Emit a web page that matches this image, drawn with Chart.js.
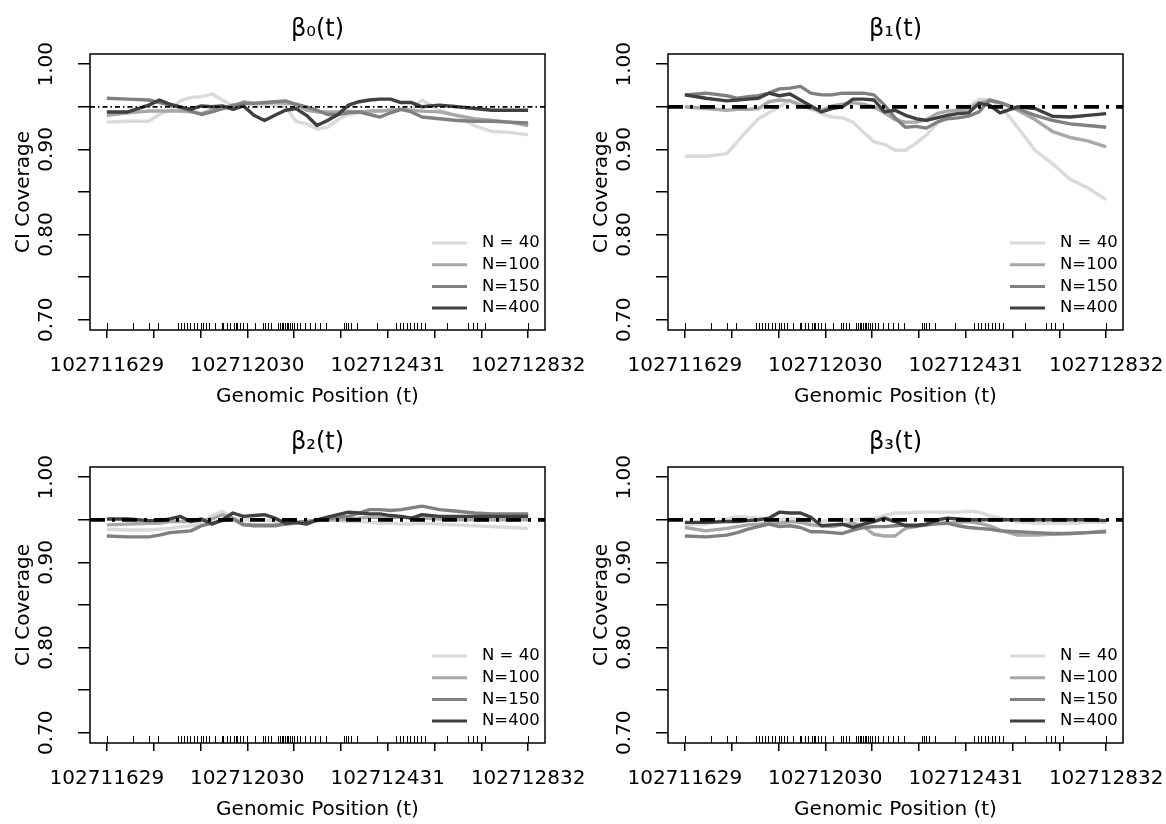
<!DOCTYPE html>
<html>
<head>
<meta charset="utf-8">
<script src="https://cdn.jsdelivr.net/npm/chart.js@4.4.1/dist/chart.umd.min.js"></script>
<style>
  body { margin: 0; background: #fff; }
  #fig { position: relative; width: 1166px; height: 824px; overflow: hidden; }
  #fig canvas { position: absolute; }
</style>
</head>
<body>
<div id="fig">
  <canvas id="p0" width="590" height="411" style="left:0;top:0"></canvas>
  <canvas id="p1" width="588" height="411" style="left:578px;top:0"></canvas>
  <canvas id="p2" width="590" height="411" style="left:0;top:413px"></canvas>
  <canvas id="p3" width="588" height="411" style="left:578px;top:413px"></canvas>
</div>
<script>
// ---- data -------------------------------------------------------
const panelTitles = ['β₀(t)', 'β₁(t)', 'β₂(t)', 'β₃(t)'];
const seriesLabels = ['N = 40', 'N=100', 'N=150', 'N=400'];

const positions = [102711629, 102711689, 102711749, 102711779, 102711809, 102711839, 102711869,
  102711899, 102711929, 102711959, 102711989, 102712019, 102712049, 102712079, 102712109,
  102712139, 102712169, 102712199, 102712229, 102712259, 102712289, 102712319, 102712349,
  102712379, 102712409, 102712439, 102712469, 102712499, 102712529, 102712579, 102712629,
  102712679, 102712729, 102712779, 102712832];

const b0_n40  = [0.932,0.933,0.933,0.941,0.946,0.957,0.961,0.962,0.965,0.958,0.951,0.953,0.953,0.952,0.953,0.950,0.933,0.930,0.924,0.926,0.935,0.941,0.943,0.945,0.945,0.947,0.947,0.947,0.958,0.946,0.939,0.928,0.921,0.920,0.917];
const b0_n100 = [0.940,0.943,0.945,0.945,0.945,0.945,0.944,0.942,0.946,0.948,0.950,0.956,0.954,0.954,0.955,0.954,0.953,0.946,0.944,0.944,0.944,0.945,0.944,0.945,0.945,0.946,0.947,0.946,0.945,0.944,0.940,0.936,0.934,0.932,0.928];
const b0_n150 = [0.960,0.959,0.958,0.955,0.952,0.949,0.945,0.941,0.944,0.948,0.952,0.954,0.954,0.955,0.956,0.957,0.953,0.950,0.946,0.941,0.941,0.943,0.944,0.941,0.938,0.943,0.947,0.944,0.938,0.936,0.934,0.933,0.933,0.932,0.931];
const b0_n400 = [0.944,0.944,0.952,0.958,0.953,0.950,0.947,0.951,0.950,0.951,0.947,0.951,0.940,0.934,0.940,0.946,0.948,0.940,0.928,0.934,0.941,0.952,0.956,0.958,0.959,0.959,0.955,0.955,0.950,0.952,0.950,0.948,0.946,0.946,0.946];

const b1_n40  = [0.892,0.892,0.895,0.909,0.923,0.936,0.943,0.950,0.957,0.954,0.948,0.942,0.938,0.937,0.932,0.920,0.909,0.906,0.899,0.899,0.907,0.917,0.930,0.941,0.945,0.950,0.959,0.958,0.952,0.926,0.899,0.883,0.865,0.855,0.841];
const b1_n100 = [0.950,0.948,0.946,0.947,0.947,0.948,0.956,0.958,0.957,0.952,0.948,0.946,0.951,0.953,0.955,0.953,0.950,0.943,0.935,0.932,0.932,0.935,0.942,0.945,0.946,0.948,0.955,0.957,0.955,0.946,0.935,0.921,0.914,0.910,0.903];
const b1_n150 = [0.964,0.966,0.963,0.960,0.962,0.963,0.966,0.971,0.972,0.974,0.966,0.964,0.964,0.966,0.966,0.966,0.964,0.952,0.937,0.926,0.927,0.925,0.932,0.936,0.937,0.939,0.944,0.958,0.955,0.948,0.940,0.934,0.930,0.928,0.926];
const b1_n400 = [0.964,0.960,0.957,0.958,0.959,0.960,0.966,0.963,0.965,0.958,0.951,0.944,0.948,0.950,0.959,0.959,0.958,0.944,0.946,0.940,0.936,0.934,0.937,0.940,0.942,0.943,0.954,0.952,0.943,0.950,0.948,0.939,0.938,0.940,0.942];

const b2_n40  = [0.939,0.938,0.938,0.939,0.940,0.942,0.943,0.945,0.955,0.960,0.952,0.950,0.950,0.950,0.948,0.946,0.947,0.948,0.949,0.950,0.949,0.948,0.948,0.947,0.946,0.946,0.945,0.945,0.946,0.945,0.944,0.943,0.942,0.941,0.940];
const b2_n100 = [0.944,0.945,0.946,0.946,0.948,0.948,0.948,0.949,0.951,0.956,0.952,0.945,0.944,0.944,0.944,0.945,0.946,0.948,0.949,0.950,0.950,0.951,0.952,0.953,0.953,0.953,0.953,0.952,0.952,0.951,0.950,0.950,0.950,0.950,0.950];
const b2_n150 = [0.931,0.930,0.930,0.932,0.935,0.936,0.937,0.943,0.946,0.949,0.951,0.944,0.943,0.943,0.943,0.945,0.947,0.948,0.949,0.951,0.953,0.954,0.958,0.962,0.962,0.961,0.962,0.964,0.966,0.962,0.960,0.958,0.957,0.957,0.957];
const b2_n400 = [0.951,0.951,0.949,0.949,0.951,0.954,0.948,0.951,0.945,0.950,0.958,0.954,0.955,0.956,0.952,0.946,0.947,0.945,0.950,0.953,0.956,0.959,0.958,0.957,0.957,0.955,0.954,0.952,0.956,0.954,0.954,0.954,0.954,0.954,0.954];

const b3_n40  = [0.944,0.945,0.951,0.954,0.953,0.952,0.951,0.950,0.952,0.951,0.947,0.948,0.950,0.950,0.950,0.951,0.952,0.955,0.958,0.958,0.959,0.959,0.959,0.959,0.959,0.960,0.959,0.955,0.952,0.948,0.946,0.946,0.946,0.947,0.947];
const b3_n100 = [0.941,0.937,0.940,0.942,0.944,0.945,0.946,0.946,0.948,0.947,0.944,0.943,0.942,0.944,0.946,0.942,0.933,0.931,0.931,0.940,0.942,0.944,0.945,0.946,0.947,0.948,0.946,0.943,0.938,0.932,0.932,0.933,0.934,0.935,0.937];
const b3_n150 = [0.931,0.930,0.932,0.935,0.939,0.942,0.945,0.942,0.943,0.941,0.936,0.936,0.935,0.934,0.938,0.941,0.942,0.942,0.943,0.944,0.944,0.944,0.946,0.946,0.943,0.941,0.940,0.939,0.937,0.936,0.935,0.934,0.934,0.935,0.936];
const b3_n400 = [0.947,0.947,0.948,0.948,0.949,0.950,0.952,0.959,0.958,0.958,0.953,0.943,0.944,0.945,0.941,0.945,0.948,0.952,0.948,0.943,0.943,0.945,0.950,0.952,0.951,0.950,0.950,0.950,0.950,0.950,0.950,0.950,0.950,0.950,0.949];

// CpG sites shown as a rug along the bottom
const rugSites = [102711629, 102711704, 102711750, 102711776, 102711833, 102711842, 102711850,
  102711859, 102711866, 102711878, 102711887, 102711898, 102711904, 102711912, 102711921,
  102711938, 102711957, 102711961, 102711971, 102711980, 102711992, 102711997, 102712002,
  102712009, 102712019, 102712028, 102712052, 102712076, 102712082, 102712090, 102712099,
  102712119, 102712123, 102712128, 102712133, 102712138, 102712142, 102712147, 102712152,
  102712157, 102712163, 102712171, 102712180, 102712195, 102712209, 102712223, 102712238,
  102712255, 102712306, 102712312, 102712319, 102712325, 102712344, 102712399, 102712455,
  102712466, 102712476, 102712485, 102712495, 102712506, 102712516, 102712525, 102712538,
  102712599, 102712659, 102712674, 102712685, 102712709, 102712832];

const xLimits = [102711580.9, 102712880.1];
const xTickVals = [102711629, 102711762.67, 102711896.33, 102712030, 102712163.67,
  102712297.33, 102712431, 102712564.67, 102712698.33, 102712832];
const xTickLabels = ['102711629', '', '', '102712030', '', '', '102712431', '', '', '102712832'];
const yLimits = [0.688, 1.012];
const yTickVals = [0.70, 0.75, 0.80, 0.85, 0.90, 0.95, 1.00];
const yTickLabels = ['0.70', '', '0.80', '', '0.90', '', '1.00'];
const refLevel = 0.95;

// ---- style ------------------------------------------------------
const FONT = 'DejaVu Sans';
const seriesColors = ['#dadada', '#a8a8a8', '#808080', '#404040'];
Chart.defaults.font.family = FONT;
Chart.defaults.color = '#000';

// box, rug and vertical y tick labels, drawn the way R does them
const rAxes = {
  id: 'rAxes',
  afterDraw(chart) {
    const { ctx, chartArea: a, scales: { x, y } } = chart;
    ctx.save();
    ctx.strokeStyle = '#000';
    ctx.lineWidth = 1;
    ctx.beginPath();
    rugSites.forEach(s => {
      const px = Math.round(x.getPixelForValue(s)) + 0.5;
      ctx.moveTo(px, a.bottom);
      ctx.lineTo(px, a.bottom - 7);
    });
    ctx.stroke();
    ctx.lineWidth = 1.5;
    ctx.strokeRect(a.left, a.top, a.right - a.left, a.bottom - a.top);
    ctx.font = '20px ' + FONT;
    ctx.fillStyle = '#000';
    ctx.textAlign = 'center';
    ctx.textBaseline = 'middle';
    yTickVals.forEach((v, i) => {
      if (!yTickLabels[i]) return;
      ctx.save();
      ctx.translate(47, y.getPixelForValue(v));
      ctx.rotate(-Math.PI / 2);
      ctx.fillText(yTickLabels[i], 0, 0);
      ctx.restore();
    });
    ctx.restore();
  }
};

// legend without a frame, bottom right inside the plot
const rLegend = {
  id: 'rLegend',
  afterDraw(chart) {
    const { ctx, chartArea: a } = chart;
    ctx.save();
    ctx.font = '16.5px ' + FONT;
    ctx.textAlign = 'left';
    ctx.textBaseline = 'middle';
    ctx.fillStyle = '#000';
    seriesLabels.forEach((lab, i) => {
      const yy = a.bottom - 87 + i * 21.7;
      ctx.strokeStyle = seriesColors[i];
      ctx.lineWidth = 3;
      ctx.beginPath();
      ctx.moveTo(a.right - 113, yy);
      ctx.lineTo(a.right - 78, yy);
      ctx.stroke();
      ctx.fillText(lab, a.right - 63, yy);
    });
    ctx.restore();
  }
};

function makePanel(id, title, series, refWidth, refDash, padRight) {
  const ds = series.map((vals, i) => ({
    label: seriesLabels[i],
    data: positions.map((p, j) => ({ x: p, y: vals[j] })),
    borderColor: seriesColors[i],
    borderWidth: 3.4,
    pointRadius: 0,
    tension: 0,
    borderJoinStyle: 'round',
    order: 10 - i
  }));
  ds.push({
    label: 'nominal',
    data: xLimits.map(x => ({ x, y: refLevel })),
    borderColor: '#000',
    borderWidth: refWidth,
    borderDash: refDash,
    pointRadius: 0,
    order: 0
  });

  new Chart(document.getElementById(id), {
    type: 'line',
    data: { datasets: ds },
    options: {
      responsive: false,
      animation: false,
      events: [],
      layout: { padding: { left: 0, top: 0, right: padRight, bottom: 0 } },
      plugins: {
        legend: { display: false },
        tooltip: { enabled: false },
        title: {
          display: true, text: title, fullSize: false, color: '#000',
          font: { size: 24, weight: 'normal' },
          padding: { top: 15, bottom: 10.2 }
        }
      },
      scales: {
        x: {
          type: 'linear', min: xLimits[0], max: xLimits[1],
          border: { display: false },
          grid: { drawOnChartArea: false, drawTicks: true, tickLength: 8, color: '#000', lineWidth: 1.5 },
          afterBuildTicks: s => { s.ticks = xTickVals.map(v => ({ value: v })); },
          afterFit: s => { s.height = s.chart.height - 330; s.paddingLeft = 0; s.paddingRight = 0; },
          ticks: {
            autoSkip: false, maxRotation: 0, minRotation: 0, padding: 16,
            font: { size: 20 }, callback: (v, i) => xTickLabels[i]
          },
          title: { display: true, text: 'Genomic Position (t)', font: { size: 20 }, padding: { top: 0, bottom: 2 } }
        },
        y: {
          min: yLimits[0], max: yLimits[1],
          border: { display: false },
          grid: { drawOnChartArea: false, drawTicks: true, tickLength: 12, color: '#000', lineWidth: 1.5 },
          afterBuildTicks: s => { s.ticks = yTickVals.map(v => ({ value: v })); },
          afterFit: s => { s.width = 90; s.paddingTop = 0; s.paddingBottom = 0; },
          ticks: { display: false },
          title: { display: true, text: 'CI Coverage', font: { size: 20 }, padding: { top: 12, bottom: 0 } }
        }
      }
    },
    plugins: [rAxes, rLegend]
  });
}

const thickDash = [15, 7, 3, 7];
makePanel('p0', panelTitles[0], [b0_n40, b0_n100, b0_n150, b0_n400], 1.8, [5, 3, 1.5, 3], 45);
makePanel('p1', panelTitles[1], [b1_n40, b1_n100, b1_n150, b1_n400], 3.8, thickDash, 43);
makePanel('p2', panelTitles[2], [b2_n40, b2_n100, b2_n150, b2_n400], 3.8, thickDash, 45);
makePanel('p3', panelTitles[3], [b3_n40, b3_n100, b3_n150, b3_n400], 3.8, thickDash, 43);
</script>
</body>
</html>
